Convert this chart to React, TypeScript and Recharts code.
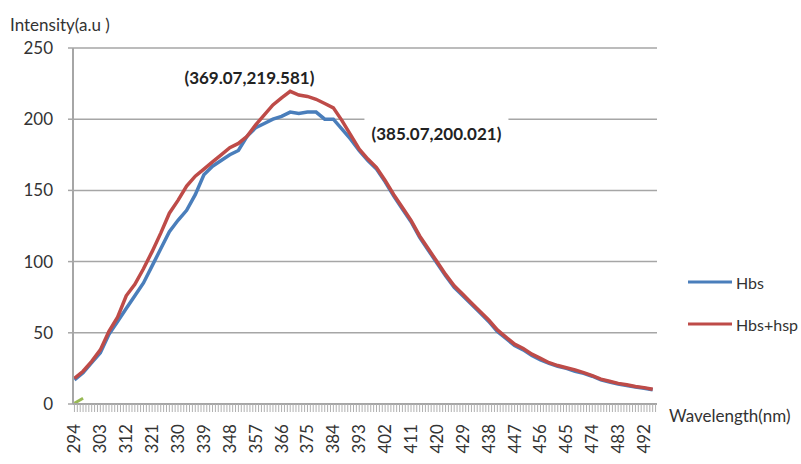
import React from 'react';
import { LineChart, Line, XAxis, YAxis, CartesianGrid, ReferenceDot } from 'recharts';

const wavelengths = [
  294, 297, 300, 303, 306, 309, 312, 315, 318, 321, 324, 327, 330, 333, 336, 339, 342, 345,
  348, 351, 354, 357, 360, 363, 366, 369, 372, 375, 378, 381, 384, 387, 390, 393, 396, 399,
  402, 405, 408, 411, 414, 417, 420, 423, 426, 429, 432, 435, 438, 441, 444, 447, 450, 453,
  456, 459, 462, 465, 468, 471, 474, 477, 480, 483, 486, 489, 492, 495,
];

const hbs = [
  17, 22, 29, 36, 49, 58, 67, 76, 85, 97, 109, 121, 129, 136, 147, 161, 167, 171,
  175, 178, 188, 194, 197, 200, 202, 205, 204, 205, 205, 200, 200, 193, 186, 178, 171, 165,
  156, 146, 137, 128, 117, 108, 99, 90, 82, 76, 70, 64, 58, 51, 46, 41, 38, 34,
  31, 28.5, 26.5, 25, 23, 21.5, 19.5, 17, 15.5, 14, 13, 12, 11, 10,
];

const hbsHsp = [
  18, 23, 30, 38, 51, 61, 76, 84, 95, 107, 120, 134, 143, 153, 160, 165, 170, 175,
  180, 183, 188, 196, 203, 210, 215, 219.6, 217, 216, 214, 211, 208, 199, 189, 179, 172, 166,
  157, 147, 138, 129, 118, 109, 100, 91, 83, 77, 71, 65, 59, 52, 47, 42, 39, 35,
  32, 29, 27, 25.5, 24, 22, 20, 17.5, 16, 14.5, 13.5, 12.3, 11.5, 10.3,
];

// short green trace at the origin
const baseline = [0.5, 4];

const labelledWavelengths = [
  294, 303, 312, 321, 330, 339, 348, 357, 366, 375, 384, 393, 402, 411, 420, 429, 438, 447,
  456, 465, 474, 483, 492,
];
const intensityTicks = [0, 50, 100, 150, 200, 250];

const peakHbsHsp = { wl: 369.07, value: 219.581, text: '(369.07,219.581)' };
const peakHbs = { wl: 385.07, value: 200.021, text: '(385.07,200.021)' };

const series = [
  { key: 'hbs', name: 'Hbs', color: '#4a7ebb' },
  { key: 'hbsHsp', name: 'Hbs+hsp', color: '#be4b48' },
];

const data = wavelengths.map((wl, i) => ({
  wl,
  hbs: hbs[i],
  hbsHsp: hbsHsp[i],
  green: baseline[i],
}));

// one minor tick per nm, like the category axis
const minorTicks: number[] = [];
for (let w = 294; w <= 496; w++) minorTicks.push(w);

const FONT = 'Lato, "Open Sans", sans-serif';
const TEXT = '#333333';
const GRID = '#a6a6a6';

const WavelengthTick = (props: any) => {
  const { x, y, payload } = props;
  if (!labelledWavelengths.includes(payload.value)) return <g />;
  return (
    <text
      x={x}
      y={y}
      dx={-10}
      dy="0.35em"
      transform={`rotate(-90, ${x}, ${y})`}
      textAnchor="end"
      fontSize={17}
      fontFamily={FONT}
      fill={TEXT}
    >
      {payload.value}
    </text>
  );
};

const PeakLabel = (dx: number, dy: number, text: string, boxed: boolean) => (props: any) => {
  const { viewBox } = props;
  const cx = viewBox.x + dx;
  const cy = viewBox.y + dy;
  return (
    <g>
      {boxed && <rect x={cx - 72} y={cy - 16} width={144} height={32} fill="#ffffff" />}
      <text
        x={cx}
        y={cy}
        textAnchor="middle"
        dominantBaseline="central"
        fontSize={17}
        fontWeight="bold"
        fontFamily={FONT}
        fill="#222222"
      >
        {text}
      </text>
    </g>
  );
};

const LegendBox = () => (
  <div
    style={{
      position: 'absolute',
      left: 688,
      top: 261,
      fontFamily: FONT,
      fontSize: 16,
      color: TEXT,
      whiteSpace: 'nowrap',
    }}
  >
    {series.map((s) => (
      <div key={s.key} style={{ display: 'flex', alignItems: 'center', height: 42 }}>
        <svg width={46} height={6}>
          <line x1={0} y1={3} x2={44} y2={3} stroke={s.color} strokeWidth={3} />
        </svg>
        <span style={{ marginLeft: 2 }}>{s.name}</span>
      </div>
    ))}
  </div>
);

export default function App() {
  return (
    <div style={{ position: 'absolute', left: 0, top: 0, width: 801, height: 464, overflow: 'hidden', background: '#fff' }}>
      <LineChart width={801} height={464} data={data} margin={{ top: 48, right: 144, left: 0, bottom: 0 }}>
        <CartesianGrid vertical={false} stroke={GRID} strokeWidth={1.5} />
        <XAxis
          dataKey="wl"
          type="number"
          domain={[293.5, 496.5]}
          ticks={minorTicks}
          interval={0}
          height={60}
          tickSize={8}
          tickMargin={2}
          axisLine={{ stroke: GRID, strokeWidth: 2 }}
          tickLine={{ stroke: '#b0b0b0' }}
          tick={<WavelengthTick />}
          label={(p: any) => (
            <text
              x={p.viewBox.x + p.viewBox.width + 12}
              y={p.viewBox.y + 11}
              dominantBaseline="central"
              fontSize={17}
              fontFamily={FONT}
              fill={TEXT}
            >
              Wavelength(nm)
            </text>
          )}
        />
        <YAxis
          type="number"
          domain={[0, 250]}
          ticks={intensityTicks}
          width={73}
          tickSize={5}
          tickMargin={15}
          axisLine={{ stroke: GRID, strokeWidth: 2 }}
          tickLine={{ stroke: GRID, strokeWidth: 1.5 }}
          tick={{ fontSize: 17, fontFamily: FONT, fill: TEXT }}
          label={(p: any) => (
            <text
              x={p.viewBox.x + 10}
              y={p.viewBox.y - 24}
              dominantBaseline="central"
              fontSize={17}
              fontFamily={FONT}
              fill={TEXT}
            >
              Intensity(a.u )
            </text>
          )}
        />
        <Line
          dataKey="green"
          stroke="#98b954"
          strokeWidth={3}
          dot={false}
          legendType="none"
          isAnimationActive={false}
        />
        {series.map((s) => (
          <Line
            key={s.key}
            type="linear"
            dataKey={s.key}
            name={s.name}
            stroke={s.color}
            strokeWidth={3.5}
            dot={false}
            isAnimationActive={false}
          />
        ))}
        <ReferenceDot
          x={peakHbsHsp.wl}
          y={peakHbsHsp.value}
          r={0}
          fill="none"
          stroke="none"
          label={PeakLabel(-41, -14, peakHbsHsp.text, false)}
        />
        <ReferenceDot
          x={peakHbs.wl}
          y={peakHbs.value}
          r={0}
          fill="none"
          stroke="none"
          label={PeakLabel(100, 14, peakHbs.text, true)}
        />
      </LineChart>
      <LegendBox />
    </div>
  );
}
